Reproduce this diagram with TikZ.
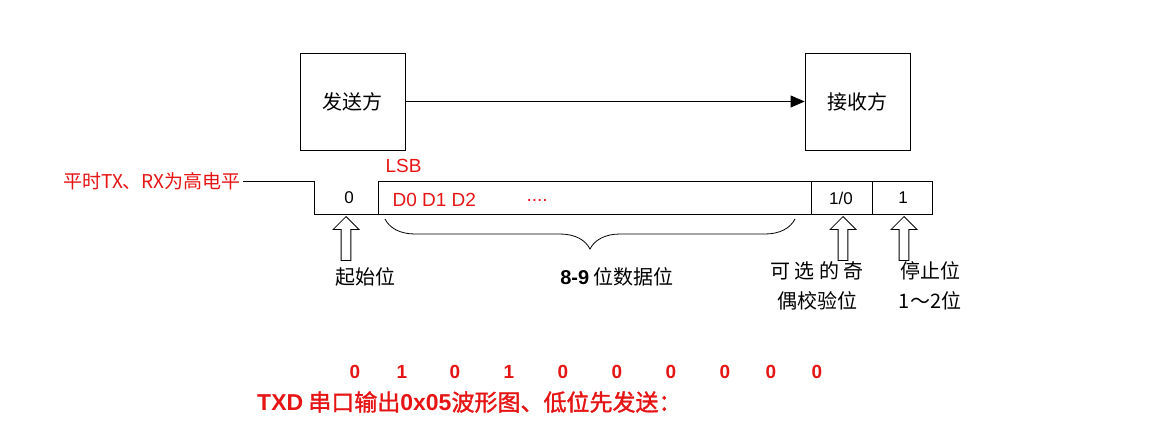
\documentclass[tikz,border=0pt]{standalone}
\usepackage{fontspec}
\setmainfont{Liberation Sans}
\newfontfamily\cjk{Noto Sans CJK SC}
\newfontfamily\cjkbold[FakeBold=1.5]{Noto Sans CJK SC}
\usetikzlibrary{arrows.meta,decorations.pathreplacing,shapes.arrows}
\definecolor{sigred}{RGB}{230,20,20}
\begin{document}
\begin{tikzpicture}[x=1pt,y=-1pt,
  party/.style={draw,thick,minimum width=105pt,minimum height=97pt,font=\cjk\fontsize{20}{24}\selectfont},
  lab/.style={font=\cjk\fontsize{20}{30}\selectfont},
  redt/.style={text=sigred,font=\fontsize{19}{22}\selectfont},
  bitd/.style={text=sigred,font=\bfseries\fontsize{19}{22}\selectfont},
  uparr/.style={draw,thick,single arrow,shape border rotate=90,minimum height=44pt,minimum width=26pt,single arrow head extend=4pt,inner sep=2pt}]
\useasboundingbox (0,0) rectangle (1166,429);
\node[party] (tx) at (352.5,101.5) {发送方};
\node[party] (rx) at (857.5,101.5) {接收方};
\draw[thick,-{Triangle[length=14pt,width=12pt]}] (tx.east) -- (rx.west);
\node[anchor=east,text=sigred,font=\cjk\fontsize{19}{22}\selectfont,inner sep=1pt] (idle) at (242,181) {平时TX、RX为高电平};
\coordinate (a) at (243,181);
\draw[thick] (a) -- (314,181) -- (314,214) -- (932,214) -- (932,181) -- (378,181) -- (378,214);
\draw[thick] (811,181) -- (811,214) (872,181) -- (872,214);
\node[font=\fontsize{17}{20}\selectfont] (b0) at (349,198) {0};
\node[font=\fontsize{17}{20}\selectfont] (bp) at (841,198) {1/0};
\node[font=\fontsize{17}{20}\selectfont] (bs) at (903,198) {1};
\node[redt,anchor=west] (lsb) at (382,166) {LSB};
\node[redt,anchor=west] (dd) at (389,200) {D0 D1 D2};
\node[redt,anchor=west] (dots) at (523,200) {....};
\node[uparr] (ar1) at (346,241) {};
\node[uparr] (ar2) at (843,241) {};
\node[uparr] (ar3) at (904,241) {};
\draw[thick,decorate,decoration={brace,amplitude=30pt,mirror}] (385,219) -- (795,219);
\node[lab] (l1) at (365,277) {起始位};
\node[lab] (l2) at (617,277) {\textbf{\fontspec{Liberation Sans}8-9} 位数据位};
\node[lab,align=center] (l3) at (817,286) {可 选 的 奇\\偶校验位};
\node[lab,align=center] (l4) at (930,286) {停止位\\1～2位};
\foreach \x/\v [count=\i] in {355/0,402/1,455/0,509/1,563/0,617/0,671/0,725/0,771/0,817/0}{
  \node[bitd] (d\i) at (\x,372) {\v};}
\node[anchor=west,text=sigred,font=\cjkbold\fontsize{23}{26}\selectfont,inner sep=0pt] (cap) at (257,402) {{\fontspec{Liberation Sans}\bfseries TXD} 串口输出{\fontspec{Liberation Sans}\bfseries 0x05}波形图、低位先发送：};
\end{tikzpicture}
\end{document}
